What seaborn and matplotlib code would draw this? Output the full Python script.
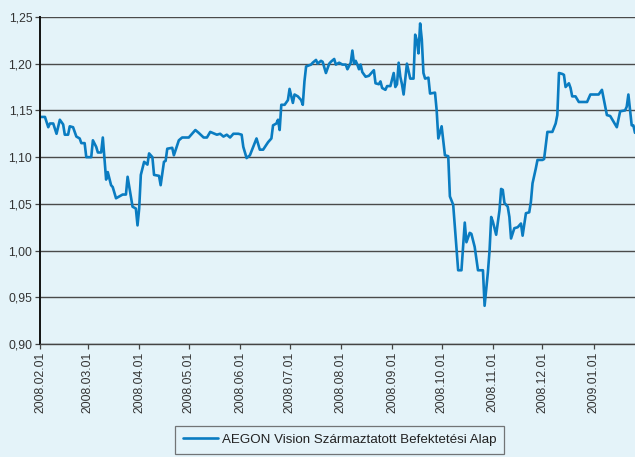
import pandas as pd
import seaborn as sns
import matplotlib.pyplot as plt

# árfolyam adatok (napok 2008.02.01-től)
start = '2008-02-01'
day = [0, 1, 3, 5, 6, 8, 10, 12, 14, 15, 17, 18, 20, 22, 24, 25, 27, 28, 31, 32,
       34, 35, 37, 38, 39, 40, 41, 43, 44, 46, 50, 52, 53, 55, 56, 58, 59, 60, 61, 63,
       65, 66, 68, 69, 72, 73, 75, 76, 77, 80, 81, 84, 86, 90, 94, 96, 99, 101, 103, 107,
       109, 111, 113, 115, 117, 120, 122, 123, 125, 127, 129, 131, 133, 135, 138, 140, 141, 143, 144, 145,
       146, 148, 150, 151, 153, 154, 156, 158, 159, 160, 161, 164, 165, 167, 168, 170, 171, 173, 175, 176,
       178, 179, 181, 183, 185, 186, 188, 189, 190, 191, 192, 193, 194, 195, 197, 199, 202, 203, 205, 206,
       207, 209, 210, 212, 214, 215, 216, 217, 218, 219, 220, 222, 223, 224, 226, 227, 228, 229, 230, 231,
       232, 233, 235, 236, 239, 240, 241, 243, 244, 245, 247, 248, 250, 251, 253, 255, 257, 258, 260, 261,
       263, 265, 268, 269, 271, 272, 273, 274, 276, 278, 279, 280, 281, 283, 284, 285, 287, 289, 291, 292,
       294, 296, 297, 298, 300, 301, 304, 305, 307, 310, 312, 313, 314, 316, 317, 318, 320, 321, 322, 324,
       326, 331, 332, 333, 338, 340, 341, 343, 345, 347, 349, 351, 354, 355, 356, 358, 359, 360]
nav = [1.143, 1.143, 1.143, 1.132, 1.136, 1.136, 1.125, 1.140, 1.135, 1.124, 1.124, 1.133, 1.132, 1.122, 1.120, 1.115, 1.115, 1.100, 1.100, 1.118,
       1.111, 1.105, 1.105, 1.121, 1.099, 1.076, 1.084, 1.070, 1.068, 1.056, 1.060, 1.060, 1.079, 1.058, 1.047, 1.045, 1.027, 1.045, 1.081, 1.095,
       1.092, 1.104, 1.100, 1.081, 1.080, 1.070, 1.095, 1.096, 1.109, 1.110, 1.102, 1.118, 1.121, 1.121, 1.129, 1.126, 1.121, 1.121, 1.127, 1.124,
       1.125, 1.122, 1.124, 1.121, 1.125, 1.125, 1.124, 1.111, 1.099, 1.102, 1.111, 1.120, 1.108, 1.108, 1.116, 1.120, 1.134, 1.136, 1.140, 1.129,
       1.156, 1.156, 1.161, 1.173, 1.158, 1.167, 1.165, 1.161, 1.156, 1.181, 1.197, 1.199, 1.201, 1.204, 1.200, 1.203, 1.202, 1.190, 1.200, 1.202,
       1.205, 1.199, 1.201, 1.199, 1.199, 1.194, 1.201, 1.214, 1.200, 1.203, 1.199, 1.194, 1.199, 1.191, 1.186, 1.187, 1.193, 1.179, 1.178, 1.181,
       1.174, 1.172, 1.176, 1.176, 1.190, 1.175, 1.178, 1.201, 1.186, 1.178, 1.167, 1.200, 1.192, 1.184, 1.184, 1.231, 1.225, 1.211, 1.243, 1.226,
       1.190, 1.184, 1.185, 1.168, 1.169, 1.150, 1.120, 1.133, 1.118, 1.102, 1.101, 1.058, 1.049, 1.026, 0.979, 0.979, 1.030, 1.009, 1.019, 1.018,
       1.004, 0.979, 0.979, 0.941, 0.977, 1.000, 1.036, 1.031, 1.017, 1.043, 1.066, 1.065, 1.051, 1.047, 1.036, 1.013, 1.024, 1.025, 1.029, 1.016,
       1.040, 1.041, 1.052, 1.072, 1.088, 1.097, 1.097, 1.098, 1.127, 1.127, 1.136, 1.145, 1.190, 1.189, 1.188, 1.175, 1.179, 1.174, 1.165, 1.165,
       1.159, 1.159, 1.163, 1.167, 1.167, 1.172, 1.163, 1.145, 1.144, 1.138, 1.132, 1.149, 1.150, 1.154, 1.167, 1.134, 1.134, 1.126]

label = 'AEGON Vision Származtatott Befektetési Alap'
xticks = ['2008-02-01', '2008-03-01', '2008-04-01', '2008-05-01', '2008-06-01', '2008-07-01',
          '2008-08-01', '2008-09-01', '2008-10-01', '2008-11-01', '2008-12-01', '2009-01-01']
yticks = [0.90, 0.95, 1.00, 1.05, 1.10, 1.15, 1.20, 1.25]

bg = '#e4f3f9'
blue = '#0a7cc1'

df = pd.DataFrame({'Dátum': pd.Timestamp(start) + pd.to_timedelta(day, unit='D'), 'Árfolyam': nav})

sns.set_style('white')
plt.rcParams['font.family'] = ['Liberation Sans', 'DejaVu Sans']

fig = plt.figure(figsize=(6.35, 4.57), dpi=100, facecolor=bg)
ax = fig.add_axes([0.063, 0.247, 0.937, 0.716])
ax.set_facecolor(bg)

sns.lineplot(data=df, x='Dátum', y='Árfolyam', color=blue, linewidth=1.9, ax=ax, label=label, legend=False)

ax.set_ylim(0.90, 1.25)
ax.set_xlim(df['Dátum'].iloc[0], df['Dátum'].iloc[-1])
ax.set_yticks(yticks)
ax.set_yticklabels([f'{v:.2f}'.replace('.', ',') for v in yticks])
xt = pd.to_datetime(xticks)
ax.set_xticks(xt)
ax.set_xticklabels([d.strftime('%Y.%m.%d') for d in xt], rotation=90, va='top')

ax.grid(axis='y', color='#4a4a4a', linewidth=1.0)
ax.grid(axis='x', visible=False)
ax.set_axisbelow(True)
for s in ['top', 'right']:
    ax.spines[s].set_visible(False)
ax.spines['left'].set_color('#111111')
ax.spines['left'].set_linewidth(1.4)
ax.spines['bottom'].set_color('#444444')
ax.spines['bottom'].set_linewidth(1.0)
ax.tick_params(axis='both', which='major', length=3.5, width=0.9, color='#444444',
               labelsize=8.8, labelcolor='#333333', pad=2, direction='out', bottom=True, left=True)
ax.set_xlabel('')
ax.set_ylabel('')

h, l = ax.get_legend_handles_labels()
leg = fig.legend(h, l, loc='lower center', bbox_to_anchor=(0.535, -0.008), frameon=True, fancybox=False,
                 facecolor=bg, edgecolor='#555555', fontsize=9.6, handlelength=2.6, borderpad=0.6,
                 handletextpad=0.3)
leg.get_frame().set_linewidth(0.9)
for t in leg.get_texts():
    t.set_color('#222222')

fig.savefig('out.png', dpi=100, facecolor=bg)
